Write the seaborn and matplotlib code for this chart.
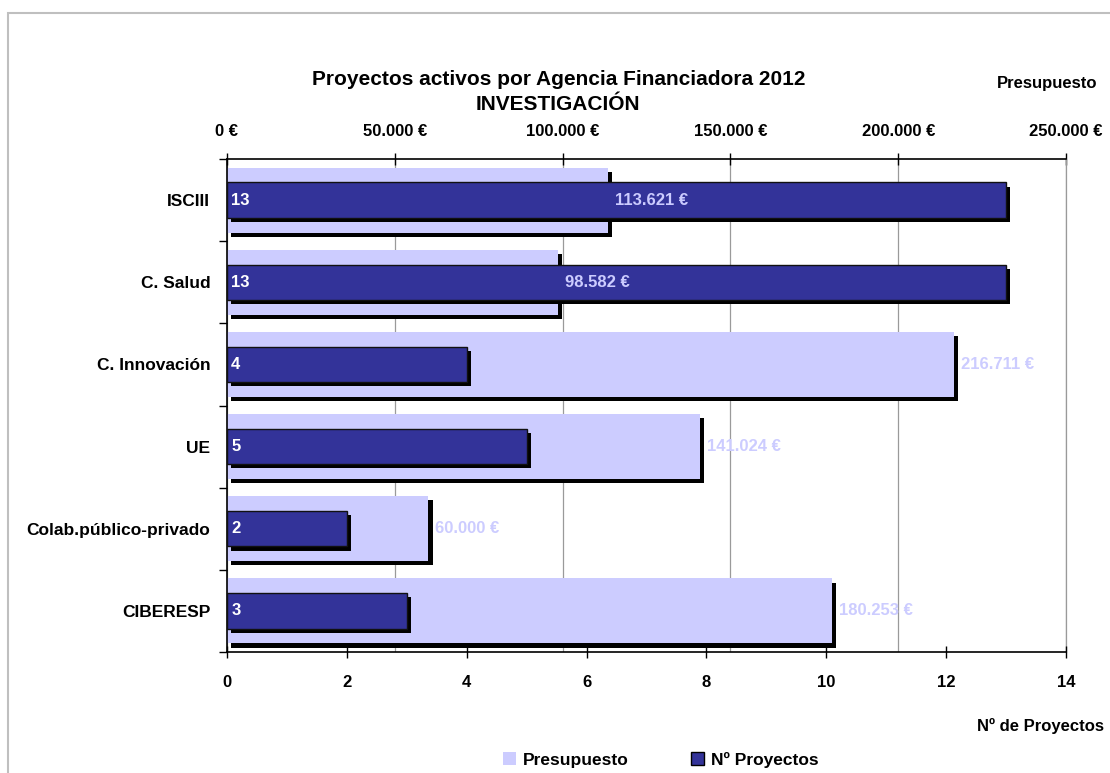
"""Active projects per funding agency 2012 - research (two x scales)."""

import matplotlib
matplotlib.use("Agg")
import matplotlib.pyplot as plt
import matplotlib.patheffects as pe
from matplotlib.patches import Patch, Rectangle
from matplotlib.ticker import FixedLocator, FuncFormatter
import seaborn as sns


agencies = ["ISCIII", "C. Salud", "C. Innovación", "UE",
            "Colab.público-privado", "CIBERESP"]
budget = [113621, 98582, 216711, 141024, 60000, 180253]
projects = [13, 13, 4, 5, 2, 3]
budget_ticks = [0, 50000, 100000, 150000, 200000, 250000]
project_ticks = [0, 2, 4, 6, 8, 10, 12, 14]

LIGHT = "#CCCCFF"
DARK = "#333399"

sns.set_theme(style="white")
plt.rcParams["font.family"] = ["Liberation Sans", "DejaVu Sans"]
plt.rcParams["font.weight"] = "bold"
plt.rcParams["text.color"] = "black"
plt.rcParams["axes.labelcolor"] = "black"
plt.rcParams["xtick.color"] = "black"
plt.rcParams["ytick.color"] = "black"


def euro(v, _=None):
    return f"{v:,.0f}".replace(",", ".") + " €"


fig = plt.figure(figsize=(11.1, 7.73), dpi=100)
ax = fig.add_axes([0.2045, 0.1565, 0.7559, 0.6378])
ax2 = ax.twiny()

# budget bars (top scale)
sns.barplot(x=budget, y=agencies, orient="h", color=LIGHT, saturation=1,
            width=0.79, errorbar=None, ax=ax, zorder=2)
shadow = pe.withSimplePatchShadow(offset=(3, -3), shadow_rgbFace="black", alpha=1)
for p in ax.patches:
    p.set_edgecolor("none")
    p.set_path_effects([shadow])

# project bars (bottom scale)
sns.barplot(x=projects, y=agencies, orient="h", color=DARK, saturation=1,
            width=0.43, errorbar=None, ax=ax2, zorder=3,
            edgecolor="#111111", linewidth=1)
for p in ax2.patches:
    p.set_path_effects([shadow])

ax.set_xlim(0, 250000)
ax2.set_xlim(0, 14)
ax.set_ylim(len(agencies) - 0.5, -0.5)

# axis placement: budget on top, projects on bottom
ax.xaxis.tick_top()
ax.xaxis.set_label_position("top")
ax2.xaxis.tick_bottom()
ax2.xaxis.set_label_position("bottom")

ax.xaxis.set_major_locator(FixedLocator(budget_ticks))
ax.xaxis.set_major_formatter(FuncFormatter(euro))
ax2.xaxis.set_major_locator(FixedLocator(project_ticks))

ax.tick_params(axis="x", which="major", direction="inout", length=9, width=1,
               labelsize=12, pad=10, top=True, bottom=False)
ax2.tick_params(axis="x", which="major", direction="inout", length=9, width=1,
                labelsize=12, pad=12, bottom=True, top=False)

# category ticks at boundaries
ax.yaxis.set_minor_locator(FixedLocator([i - 0.5 for i in range(len(agencies) + 1)]))
ax.tick_params(axis="y", which="major", length=0, labelsize=12.5, pad=12)
ax.tick_params(axis="y", which="minor", direction="out", length=6, width=1,
               left=True)

ax.grid(axis="x", color="#9A9A9A", linewidth=0.9)
ax.grid(axis="y", visible=False)
ax.set_axisbelow(True)
ax2.grid(False)

for name, sp in ax.spines.items():
    sp.set_visible(name != "right")
    sp.set_color("black")
    sp.set_linewidth(1.2)
ax.spines["right"].set_visible(True)
ax.spines["right"].set_color("#9A9A9A")
ax.spines["right"].set_linewidth(0.9)
for sp in ax2.spines.values():
    sp.set_visible(False)

ax.set_ylabel("")
ax2.set_ylabel("")
ax.set_xlabel("Presupuesto", fontsize=12, fontweight="bold")
ax.xaxis.set_label_coords(0.978, 1.145)
ax2.set_xlabel("Nº de Proyectos", fontsize=12, fontweight="bold")
ax2.xaxis.set_label_coords(0.969, -0.134)

# value labels
for i, (n, b) in enumerate(zip(projects, budget)):
    ax2.annotate(str(n), xy=(0, i), xytext=(3, 0), textcoords="offset points",
                 ha="left", va="center", color="white", fontsize=12,
                 fontweight="bold", zorder=5)
    ax2.annotate(euro(b), xy=(b, i), xycoords=ax.transData, xytext=(5, 0),
                 textcoords="offset points", ha="left", va="center",
                 color=LIGHT, fontsize=12, fontweight="bold", zorder=5)

fig.suptitle("Proyectos activos por Agencia Financiadora 2012\nINVESTIGACIÓN",
             x=0.503, y=0.91, fontsize=15, fontweight="bold", linespacing=1.45)

handles = [Patch(facecolor=LIGHT, edgecolor="none", label="Presupuesto"),
           Patch(facecolor=DARK, edgecolor="black", label="Nº Proyectos")]
fig.legend(handles=handles, loc="center", bbox_to_anchor=(0.595, 0.017),
           ncol=2, frameon=False, prop={"size": 12.5, "weight": "bold"},
           handlelength=0.75, handleheight=0.75, handletextpad=0.4,
           columnspacing=3.6)

# outer chart frame (left and top edges visible)
fig.add_artist(Rectangle((8 / 1110, -0.2), 1.5, 1.2 - 13 / 773, fill=False,
                         edgecolor="#BFBFBF", linewidth=1.5,
                         transform=fig.transFigure))

fig.savefig("out.png", dpi=100)
plt.close(fig)
